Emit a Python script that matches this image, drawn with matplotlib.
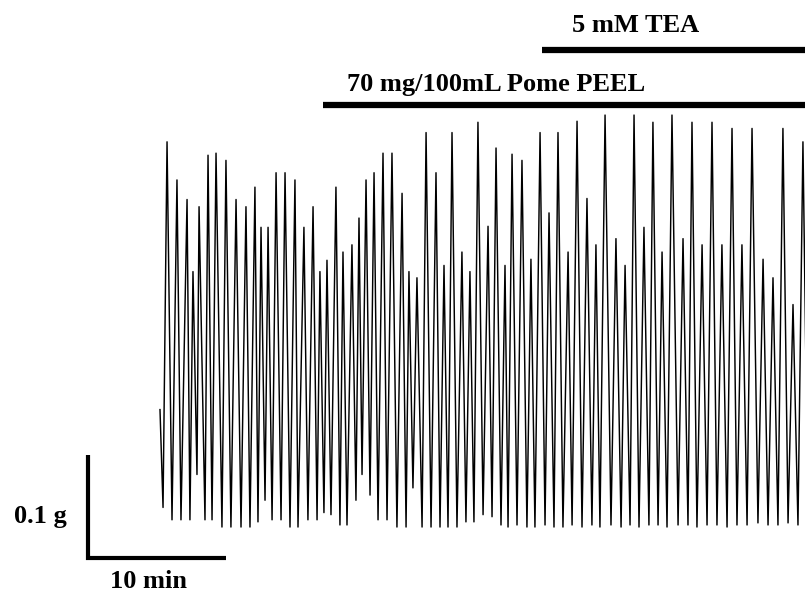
import numpy as np
import matplotlib
matplotlib.use('Agg')
import matplotlib.pyplot as plt

# contraction peaks (time in min, force in g above resting tone)
peak_t = [0.51, 1.23, 1.96, 2.39, 2.83, 3.48, 4.06, 4.78, 5.51, 6.23, 6.88, 7.32,
          7.83, 8.41, 9.06, 9.78, 10.43, 11.09, 11.59, 12.10, 12.75, 13.26, 13.91, 14.42,
          14.93, 15.51, 16.16, 16.81, 17.54, 18.04, 18.62, 19.28, 20.00, 20.58, 21.16, 21.88,
          22.46, 23.04, 23.77, 24.35, 25.00, 25.51, 26.23, 26.88, 27.54, 28.19, 28.84, 29.57,
          30.22, 30.94, 31.59, 32.25, 33.04, 33.70, 34.35, 35.07, 35.72, 36.38, 37.10, 37.90,
          38.55, 39.28, 40.00, 40.72, 41.45, 42.17, 42.90, 43.70, 44.42, 45.14, 45.87, 46.59]
peak_g = [0.372, 0.335, 0.316, 0.246, 0.309, 0.359, 0.361, 0.354, 0.316, 0.309, 0.328, 0.289,
          0.289, 0.342, 0.342, 0.335, 0.289, 0.309, 0.246, 0.257, 0.328, 0.265, 0.272, 0.298,
          0.335, 0.342, 0.361, 0.361, 0.322, 0.246, 0.240, 0.381, 0.342, 0.252, 0.381, 0.265,
          0.246, 0.391, 0.290, 0.366, 0.252, 0.360, 0.354, 0.258, 0.381, 0.303, 0.381, 0.265,
          0.392, 0.317, 0.272, 0.398, 0.278, 0.252, 0.398, 0.289, 0.391, 0.265, 0.398, 0.278,
          0.391, 0.272, 0.391, 0.272, 0.385, 0.272, 0.385, 0.258, 0.240, 0.385, 0.214, 0.372]

# relaxation troughs, including the start and the end of the recording
trough_t = [0.00, 0.22, 0.87, 1.52, 2.17, 2.68, 3.26, 3.77, 4.49, 5.14, 5.87, 6.52, 7.10,
            7.61, 8.12, 8.77, 9.42, 10.00, 10.72, 11.38, 11.88, 12.39, 13.04, 13.55, 14.20,
            14.64, 15.22, 15.80, 16.45, 17.17, 17.83, 18.33, 18.99, 19.64, 20.29, 20.87, 21.52,
            22.17, 22.75, 23.41, 24.06, 24.71, 25.22, 25.87, 26.59, 27.17, 27.90, 28.55, 29.20,
            29.86, 30.58, 31.30, 31.88, 32.68, 33.41, 34.06, 34.71, 35.43, 36.09, 36.74, 37.54,
            38.26, 38.91, 39.64, 40.36, 41.09, 41.81, 42.54, 43.33, 44.06, 44.78, 45.51, 46.23,
            46.96]
trough_g = [0.112, 0.017, 0.005, 0.005, 0.005, 0.049, 0.005, 0.005, -0.002, -0.002, -0.002,
            -0.002, 0.003, 0.024, 0.005, 0.005, -0.002, -0.002, 0.005, 0.005, 0.012, 0.010,
            0.000, 0.000, 0.024, 0.049, 0.029, 0.005, 0.005, -0.002, -0.002, 0.036, -0.002,
            -0.002, -0.002, -0.002, -0.002, 0.003, 0.003, 0.010, 0.008, 0.000, -0.002, 0.000,
            -0.002, -0.002, 0.000, -0.002, -0.002, 0.000, -0.002, 0.000, -0.002, 0.000, -0.002,
            0.000, -0.002, 0.000, 0.000, -0.002, 0.000, 0.000, -0.002, 0.000, 0.000, -0.002,
            0.000, 0.000, 0.002, 0.000, 0.000, 0.002, 0.000, 0.000]

# drug application times (min)
pome_start = 11.8
tea_start = 27.7
pome_label = '70 mg/100mL Pome PEEL'
tea_label = '5 mM TEA'

# scale bars
bar_g = 0.1
bar_min = 10

# merge troughs and peaks into one trace: trough, peak, trough, ...
t = [trough_t[0], trough_t[1]]
g = [trough_g[0], trough_g[1]]
for i in range(len(peak_t)):
  t += [peak_t[i], trough_t[i + 2]]
  g += [peak_g[i], trough_g[i + 2]]

fig = plt.figure(figsize=(8.05, 5.95), dpi=100)
ax = fig.add_axes([0, 0, 1, 1])
ax.set_xlim(-11.594, 46.739)
ax.set_ylim(-0.068, 0.5097)
ax.axis('off')

ax.plot(t, g, color='black', lw=1.05, solid_joinstyle='round')

font = dict(family='Liberation Serif', weight='bold', size=19)

# treatment bars
ax.plot([pome_start, 50], [0.408, 0.408], color='black', lw=4.5, solid_capstyle='butt')
ax.plot([tea_start, 50], [0.461, 0.461], color='black', lw=4.5, solid_capstyle='butt')
ax.text(24.35, 0.421, pome_label, ha='center', va='baseline', **font)
ax.text(34.49, 0.479, tea_label, ha='center', va='baseline', **font)

# L-shaped scale bar
x0, y0 = -5.22, -0.032
ax.plot([x0, x0, x0 + bar_min], [y0 + bar_g, y0, y0], color='black', lw=3,
        solid_joinstyle='miter', solid_capstyle='butt')
ax.text(-8.70, 0.002, '{0} g'.format(bar_g), ha='center', va='baseline', **font)
ax.text(-0.80, -0.061, '{0} min'.format(bar_min), ha='center', va='baseline', **font)

fig.savefig('out.png', dpi=100)
